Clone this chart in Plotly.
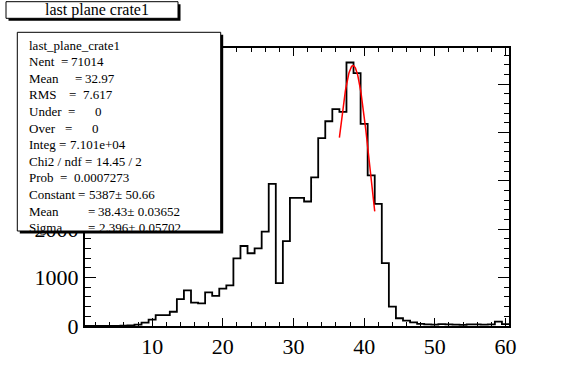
import numpy as np
import plotly.graph_objects as go

# ---------------- data ----------------
bin_centers = list(range(1, 61))
bin_counts = [0, 0, 0, 0, 2, 5, 10, 30, 70, 130,
              225, 225, 295, 555, 735, 485, 470, 695, 625, 775,
              840, 1400, 1655, 1505, 1605, 1950, 2940, 885, 1755, 2650,
              2650, 2575, 3075, 3885, 4235, 4485, 4430, 5450, 5230, 4180,
              3115, 2525, 1300, 400, 160, 110, 75, 45, 35, 30,
              40, 35, 30, 25, 35, 35, 30, 35, 90, 40]
bin_width = 1.0

fit_constant = 5387.0
fit_mean = 38.43
fit_sigma = 2.396
fit_range = [36.5, 41.5]

title_text = "last plane crate1"
stats_name = "last_plane_crate1"
stats_labels = ["Nent", "Mean", "RMS", "Under", "Over", "Integ", "Chi2 / ndf",
                "Prob", "Constant", "Mean", "Sigma"]
stats_values = ["71014", "32.97", "7.617", "0", "0", "7.101e+04", "14.45 / 2",
                "0.0007273", "5387\u00b1 50.66", "38.43\u00b1 0.03652", "2.396\u00b1 0.05702"]

x_tick_vals = [10, 20, 30, 40, 50, 60]
y_tick_vals = [0, 1000, 2000, 3000, 4000, 5000]
y_tick_text = ["0", "1000", "2000", "", "", ""]   # upper labels are hidden by the stats box

# ---------------- geometry (page pixels) ----------------
W, H = 567, 384
PL, PR, PT, PB = 85, 509, 48, 326   # plot area in page pixels
PW, PH = PR - PL, PB - PT

def px(x):
    return (x - PL) / PW

def py(y):
    return (PB - y) / PH

FONT = "Liberation Serif"
STAT_SIZE = 13

# Times advance widths (1/1000 em) for laying out the stats box
ADV = {"N": 722, "e": 444, "n": 500, "t": 278, "M": 889, "a": 444, "R": 667, "S": 556,
       "U": 722, "d": 500, "r": 333, "O": 722, "v": 500, "I": 333, "g": 500, "C": 667,
       "h": 500, "i": 278, "2": 500, " ": 250, "/": 278, "f": 333, "P": 556, "o": 500,
       "b": 500, "s": 389, "m": 778, "=": 564}

def width(s, size):
    return sum(ADV.get(ch, 500) for ch in s) * size / 1000.0

edges = [c - bin_width / 2 for c in bin_centers] + [bin_centers[-1] + bin_width / 2]
step_y = bin_counts + [bin_counts[-1]]

fx = np.linspace(fit_range[0], fit_range[1], 120)
fy = fit_constant * np.exp(-0.5 * ((fx - fit_mean) / fit_sigma) ** 2)

fig = go.Figure()
fig.add_trace(go.Scatter(x=edges, y=step_y, mode="lines", line_shape="hv",
                         line=dict(color="black", width=1.8), hoverinfo="skip"))
fig.add_trace(go.Scatter(x=fx, y=fy, mode="lines",
                         line=dict(color="#ff0000", width=1.5), hoverinfo="skip"))

shapes = []
def box(x0, y0, x1, y1, shadow=2.5):
    shapes.append(dict(type="rect", xref="paper", yref="paper", layer="above",
                       x0=px(x0 + shadow), x1=px(x1 + shadow), y0=py(y0 + shadow), y1=py(y1 + shadow),
                       fillcolor="black", line=dict(width=0)))
    shapes.append(dict(type="rect", xref="paper", yref="paper", layer="above",
                       x0=px(x0), x1=px(x1), y0=py(y0), y1=py(y1),
                       fillcolor="white", line=dict(color="black", width=1)))

box(6, 1.7, 178, 18.3)
box(17.3, 32.3, 220.7, 231)

annotations = []
def text(x, y, s, size=STAT_SIZE, anchor="left"):
    annotations.append(dict(x=px(x), y=py(y), xref="paper", yref="paper", text=s,
                            showarrow=False, xanchor=anchor, yanchor="middle",
                            borderpad=0,
                            font=dict(family=FONT, size=size, color="black")))

text(96.5, 10.5, title_text, size=16, anchor="center")

# number of spaces before and after "=" on each stats line (layout only)
pre_sp = [2, 5, 4, 2, 3, 1, 1, 2, 1, 9, 8]
post_sp = [1, 1, 2, 6, 6, 1, 1, 2, 1, 1, 1]
x_start = 28.0
line0 = 45.0
dline = 16.6
sp = width(" ", STAT_SIZE)
text(x_start, line0, stats_name)
for k, (lab, val) in enumerate(zip(stats_labels, stats_values)):
    yy = line0 + dline * (k + 1)
    xe = x_start + width(lab, STAT_SIZE) + pre_sp[k] * sp
    xv = xe + width("=", STAT_SIZE) + post_sp[k] * sp
    text(x_start, yy, lab)
    text(xe, yy, "=")
    text(xv, yy, val)

axis_common = dict(showline=True, linecolor="black", linewidth=2, mirror="ticks",
                   ticks="inside", tickcolor="black", tickwidth=1,
                   showgrid=False, zeroline=False, fixedrange=True,
                   tickfont=dict(family=FONT, size=22, color="black"))

fig.update_layout(
    width=W, height=H,
    margin=dict(l=PL, r=W - PR, t=PT, b=H - PB, pad=0),
    paper_bgcolor="white", plot_bgcolor="white",
    showlegend=False,
    shapes=shapes, annotations=annotations,
    xaxis=dict(range=[edges[0], edges[-1]], tickmode="array", tickvals=x_tick_vals,
               ticklen=8, minor=dict(ticks="inside", dtick=2, tick0=0, ticklen=4,
                                     tickcolor="black", tickwidth=1),
               **axis_common),
    yaxis=dict(range=[0, 5750], tickmode="array", tickvals=y_tick_vals, ticktext=y_tick_text,
               ticklen=11, minor=dict(ticks="inside", dtick=200, tick0=0, ticklen=5.5,
                                      tickcolor="black", tickwidth=1),
               **axis_common),
)

fig.write_html("out.html", config={"displayModeBar": False},
               post_script="document.body.style.margin='0px';document.body.style.overflow='hidden';")
